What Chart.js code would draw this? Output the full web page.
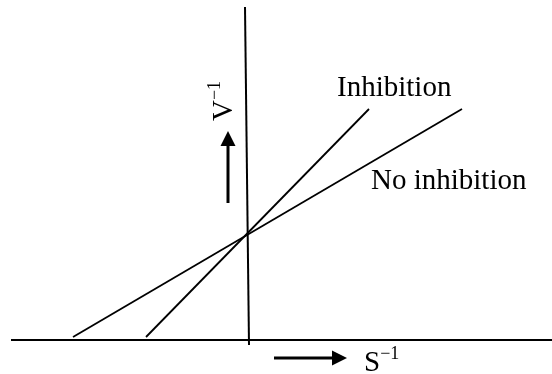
<!DOCTYPE html>
<html>
<head>
<meta charset="utf-8">
<script src="https://cdn.jsdelivr.net/npm/chart.js@4/dist/chart.umd.min.js"></script>
<style>
  body { margin: 0; background: #fff; }
  #plot { display: block; }
</style>
</head>
<body>
<canvas id="plot" width="552" height="374"></canvas>
<script>
// Lineweaver-Burk sketch: x = S^-1, y = V^-1 (arbitrary units)
const noInhX = [-1.74, 2.15];
const noInhY = [0.03, 2.31];
const inhX = [-1.01, 1.22];
const inhY = [0.03, 2.31];

// hand-drawn axes (vertical one leans slightly)
const xAxisX = [-2.36, 3.05];
const xAxisY = [0, 0];
const yAxisX = [-0.02, 0.02];
const yAxisY = [3.33, -0.05];

const lineLabels = ["Inhibition", "No inhibition"];
const axisNames = ["S", "V"];
const axisPower = "\u22121";

const SERIF = '"Liberation Serif", "Times New Roman", serif';

function pts(xs, ys) {
  return xs.map((x, i) => ({ x, y: ys[i] }));
}

function seg(xs, ys, width) {
  return {
    data: pts(xs, ys),
    showLine: true,
    borderColor: "#000",
    borderWidth: width,
    pointRadius: 0,
    fill: false,
  };
}

function arrow(ctx, x1, y1, x2, y2) {
  const ang = Math.atan2(y2 - y1, x2 - x1);
  const head = 15, half = 7.5;
  const bx = x2 - head * Math.cos(ang), by = y2 - head * Math.sin(ang);
  ctx.beginPath();
  ctx.lineWidth = 3;
  ctx.moveTo(x1, y1);
  ctx.lineTo(bx, by);
  ctx.stroke();
  ctx.beginPath();
  ctx.moveTo(x2, y2);
  ctx.lineTo(bx + half * Math.sin(ang), by - half * Math.cos(ang));
  ctx.lineTo(bx - half * Math.sin(ang), by + half * Math.cos(ang));
  ctx.closePath();
  ctx.fill();
}

const notes = {
  id: "notes",
  afterDatasetsDraw(chart) {
    const { ctx } = chart;
    const sx = v => chart.scales.x.getPixelForValue(v);
    const sy = v => chart.scales.y.getPixelForValue(v);
    ctx.save();
    ctx.fillStyle = "#000";
    ctx.strokeStyle = "#000";
    ctx.textBaseline = "alphabetic";
    ctx.textAlign = "left";

    ctx.font = "29px " + SERIF;
    ctx.fillText(lineLabels[0], sx(0.90), sy(2.44));
    ctx.fillText(lineLabels[1], sx(1.24), sy(1.51));

    // S^-1 under the x axis
    ctx.fillText(axisNames[0], sx(1.17), sy(-0.31));
    const sw = ctx.measureText(axisNames[0]).width;
    ctx.font = "18px " + SERIF;
    ctx.fillText(axisPower, sx(1.17) + sw, sy(-0.19));

    // V^-1 rotated beside the y axis
    ctx.save();
    ctx.translate(sx(-0.15), sy(2.19));
    ctx.rotate(-Math.PI / 2);
    ctx.font = "29px " + SERIF;
    ctx.fillText(axisNames[1], 0, 0);
    const vw = ctx.measureText(axisNames[1]).width;
    ctx.font = "18px " + SERIF;
    ctx.fillText(axisPower, vw, -12);
    ctx.restore();

    arrow(ctx, sx(-0.19), sy(1.37), sx(-0.19), sy(2.09));
    arrow(ctx, sx(0.27), sy(-0.18), sx(1.00), sy(-0.18));
    ctx.restore();
  },
};

new Chart(document.getElementById("plot"), {
  type: "scatter",
  data: {
    datasets: [
      seg(xAxisX, xAxisY, 2),
      seg(yAxisX, yAxisY, 2),
      seg(noInhX, noInhY, 1.8),
      seg(inhX, inhY, 1.8),
    ],
  },
  options: {
    responsive: false,
    animation: false,
    layout: { padding: 0 },
    plugins: { legend: { display: false }, tooltip: { enabled: false } },
    scales: {
      x: { type: "linear", display: false, min: -2.47, max: 3.05 },
      y: { type: "linear", display: false, min: -0.34, max: 3.40 },
    },
  },
  plugins: [notes],
});
</script>
</body>
</html>
